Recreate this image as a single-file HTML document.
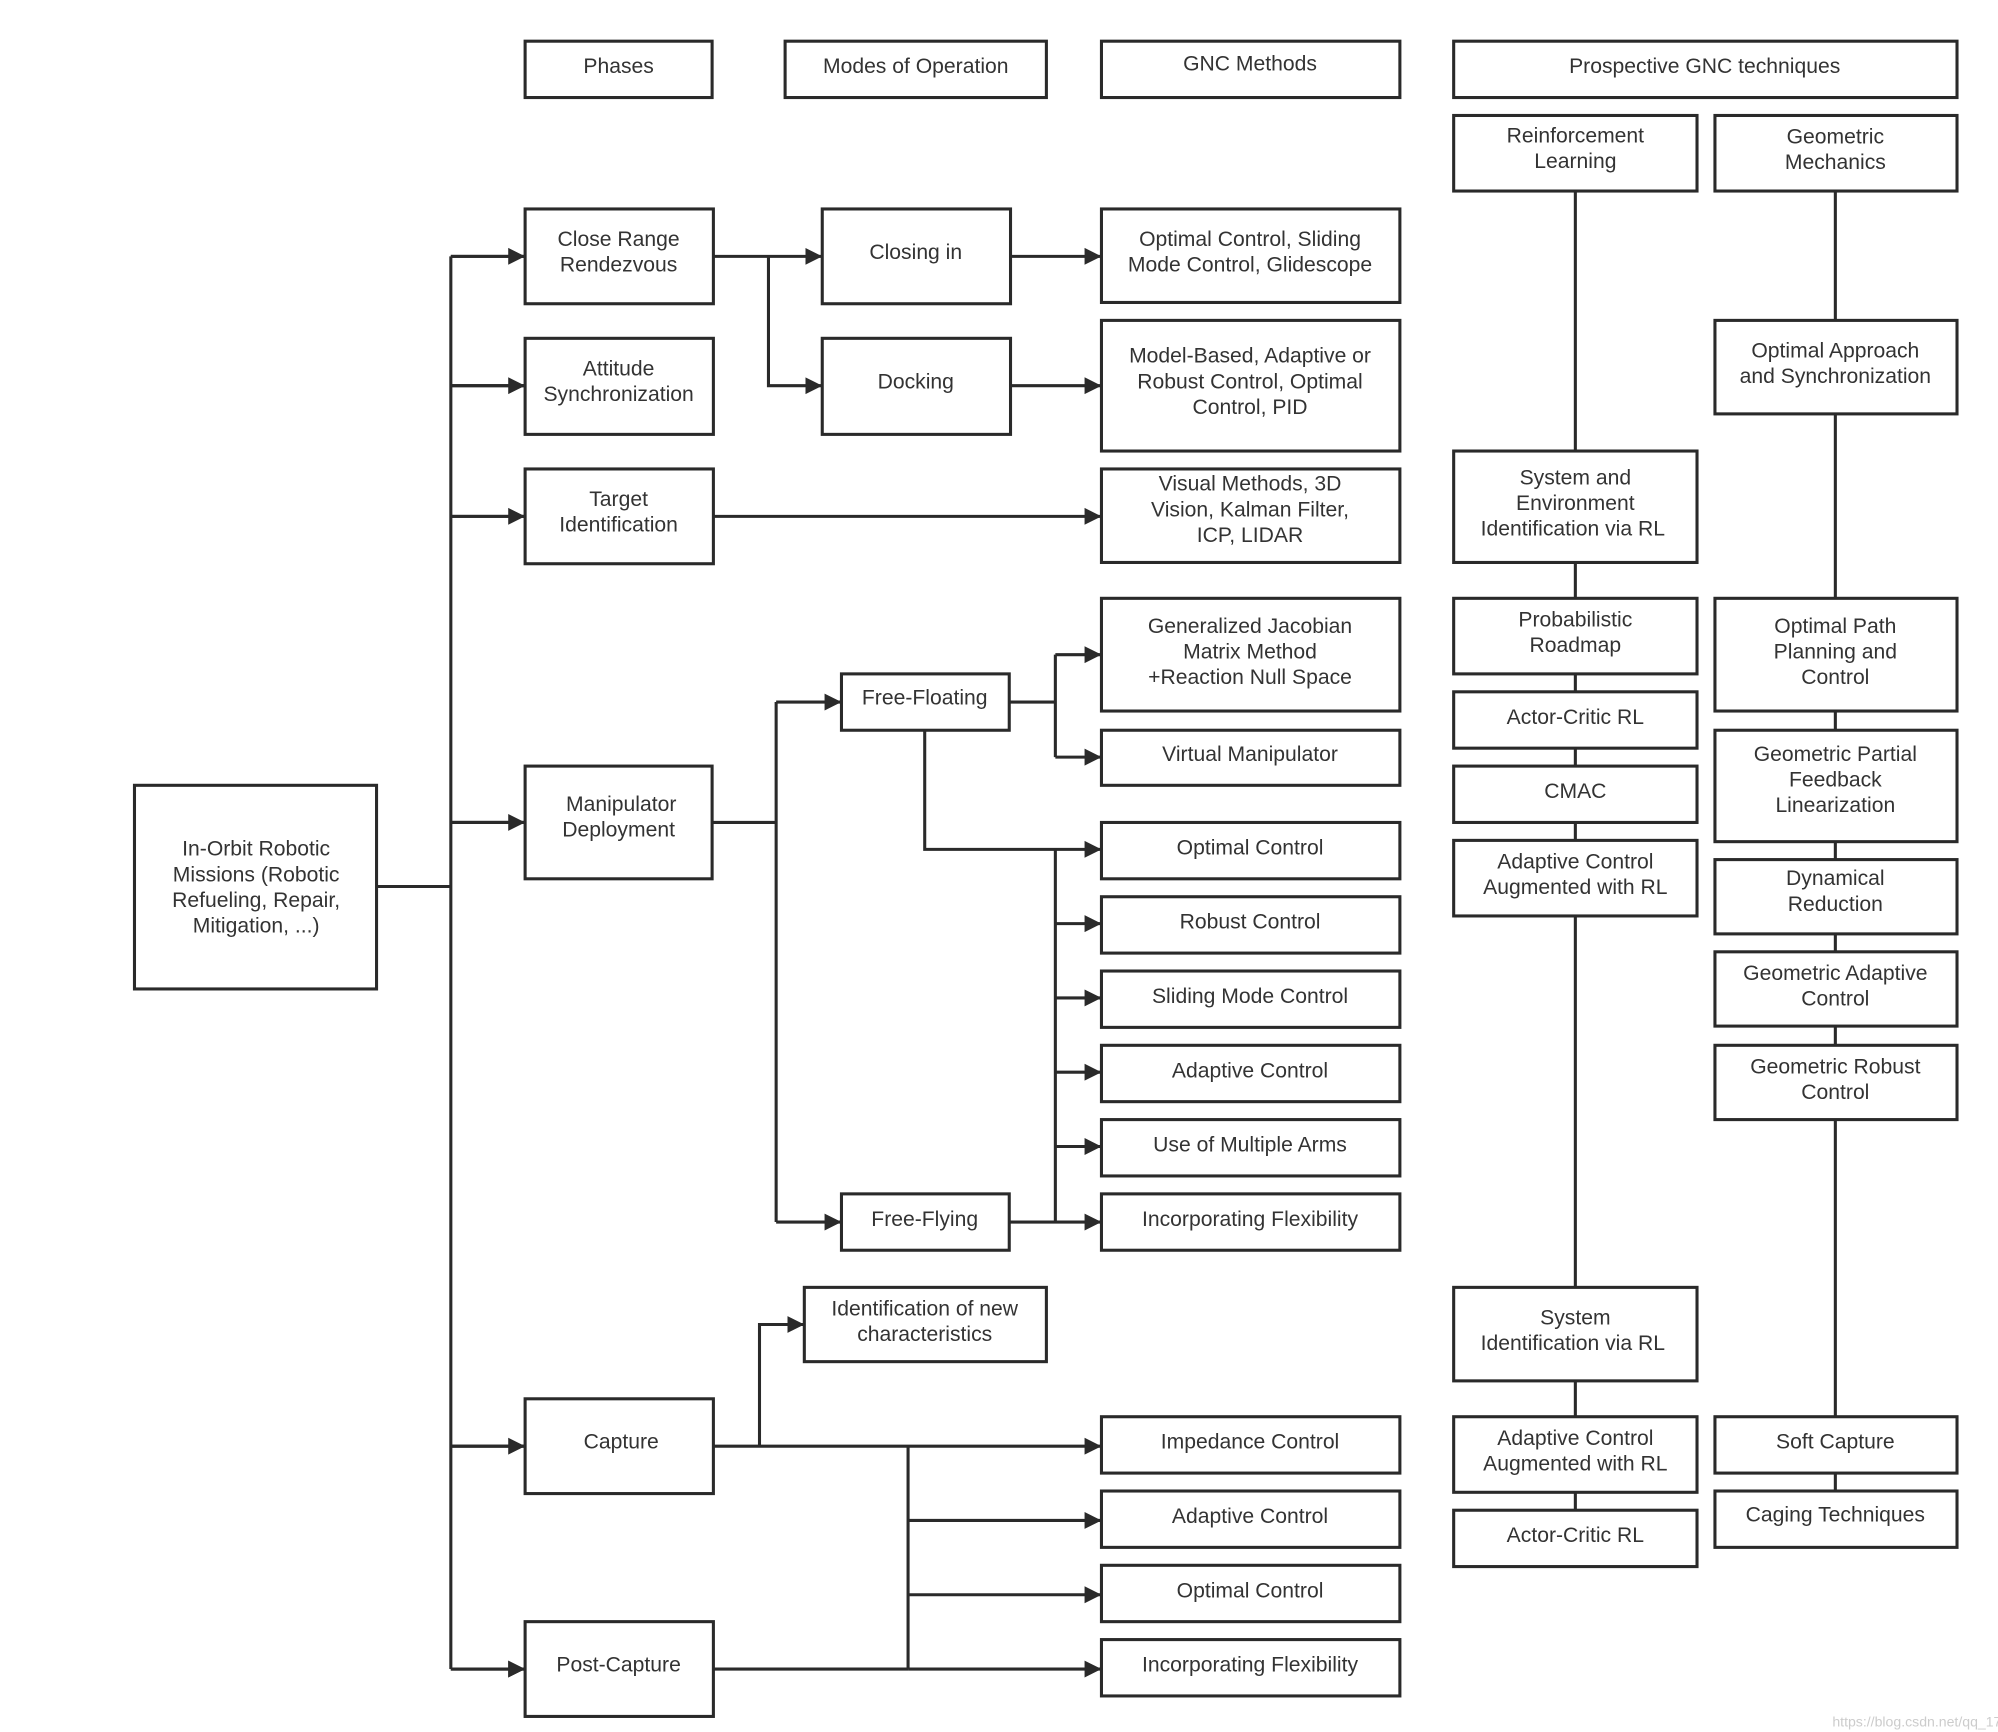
<!DOCTYPE html>
<html><head><meta charset="utf-8"><style>
html,body{margin:0;padding:0;background:#fff}
svg{display:block}
text{font-family:"Liberation Sans",sans-serif;font-size:16.5px;fill:#333;text-anchor:middle}
</style></head><body>
<svg width="1998" height="1732" viewBox="0 0 1560 1352" xmlns="http://www.w3.org/2000/svg">
<defs><marker id="a" viewBox="0 0 10 10" refX="10" refY="5" markerWidth="5.5" markerHeight="6.5" orient="auto" markerUnits="strokeWidth"><path d="M0,0L10,5L0,10z" fill="#2a2a2a"/></marker></defs>
<g fill="none" stroke="#2a2a2a" stroke-width="2.4">
<rect x="410" y="32" width="146" height="44"/><rect x="613" y="32" width="204" height="44"/><rect x="860" y="32" width="233" height="44"/><rect x="1135" y="32" width="393" height="44"/>
<rect x="1135" y="90" width="190" height="59"/><rect x="1339" y="90" width="189" height="59"/>
<rect x="410" y="163" width="147" height="74"/><rect x="642" y="163" width="147" height="74"/><rect x="860" y="163" width="233" height="73"/>
<rect x="410" y="264" width="147" height="75"/><rect x="642" y="264" width="147" height="75"/><rect x="860" y="250" width="233" height="102"/>
<rect x="410" y="366" width="147" height="74"/><rect x="860" y="366" width="233" height="73"/>
<rect x="1339" y="250" width="189" height="73"/><rect x="1135" y="352" width="190" height="87"/>
<rect x="1135" y="467" width="190" height="59"/><rect x="1339" y="467" width="189" height="88"/>
<rect x="860" y="467" width="233" height="88"/><rect x="657" y="526" width="131" height="44"/>
<rect x="1135" y="540" width="190" height="44"/><rect x="1339" y="570" width="189" height="87"/>
<rect x="860" y="570" width="233" height="43"/><rect x="1135" y="598" width="190" height="44"/>
<rect x="410" y="598" width="146" height="88"/><rect x="105" y="613" width="189" height="159"/>
<rect x="860" y="642" width="233" height="44"/><rect x="1135" y="656" width="190" height="59"/><rect x="1339" y="671" width="189" height="58"/>
<rect x="860" y="700" width="233" height="44"/><rect x="860" y="758" width="233" height="44"/><rect x="1339" y="743" width="189" height="58"/>
<rect x="860" y="816" width="233" height="44"/><rect x="1339" y="816" width="189" height="58"/>
<rect x="860" y="874" width="233" height="44"/><rect x="860" y="932" width="233" height="44"/><rect x="657" y="932" width="131" height="44"/>
<rect x="628" y="1005" width="189" height="58"/><rect x="1135" y="1005" width="190" height="73"/>
<rect x="410" y="1092" width="147" height="74"/><rect x="860" y="1106" width="233" height="44"/><rect x="1135" y="1106" width="190" height="59"/><rect x="1339" y="1106" width="189" height="44"/>
<rect x="860" y="1164" width="233" height="44"/><rect x="1339" y="1164" width="189" height="44"/><rect x="1135" y="1179" width="190" height="44"/>
<rect x="860" y="1222" width="233" height="44"/><rect x="410" y="1266" width="147" height="74"/><rect x="860" y="1280" width="233" height="44"/>
<path d="M294,692H352M352,200V1303"/>
<path d="M352,200H410M352,301H410M352,403H410M352,642H410M352,1129H410M352,1303H410" marker-end="url(#a)"/>
<path d="M352,200H410" marker-end="url(#a)"/><path d="M352,301H410" marker-end="url(#a)"/><path d="M352,403H410" marker-end="url(#a)"/><path d="M352,642H410" marker-end="url(#a)"/><path d="M352,1129H410" marker-end="url(#a)"/><path d="M352,1303H410" marker-end="url(#a)"/>
<path d="M557,200H642" marker-end="url(#a)"/><path d="M600,200V301H642" marker-end="url(#a)"/>
<path d="M789,200H860" marker-end="url(#a)"/><path d="M789,301H860" marker-end="url(#a)"/><path d="M557,403H860" marker-end="url(#a)"/>
<path d="M556,642H606M606,548V954"/><path d="M606,548H657" marker-end="url(#a)"/><path d="M606,954H657" marker-end="url(#a)"/>
<path d="M788,548H824M824,511V591"/><path d="M824,511H860" marker-end="url(#a)"/><path d="M824,591H860" marker-end="url(#a)"/>
<path d="M722,570V663H860" marker-end="url(#a)"/><path d="M824,663V954"/>
<path d="M788,954H860" marker-end="url(#a)"/><path d="M824,721H860" marker-end="url(#a)"/><path d="M824,779H860" marker-end="url(#a)"/><path d="M824,837H860" marker-end="url(#a)"/><path d="M824,895H860" marker-end="url(#a)"/>
<path d="M557,1129H860" marker-end="url(#a)"/><path d="M593,1129V1034H628" marker-end="url(#a)"/>
<path d="M709,1129V1303M557,1303H709"/><path d="M709,1187H860" marker-end="url(#a)"/><path d="M709,1245H860" marker-end="url(#a)"/><path d="M709,1303H860" marker-end="url(#a)"/>
<path d="M1230,149V352M1230,439V467M1230,526V540M1230,584V598M1230,642V656M1230,715V1005M1230,1078V1106M1230,1165V1179"/>
<path d="M1433,149V250M1433,323V467M1433,555V570M1433,657V671M1433,729V743M1433,801V816M1433,874V1106M1433,1150V1164"/>
</g>
<text x="483" y="57">Phases</text><text x="715" y="57">Modes of Operation</text><text x="976" y="55">GNC Methods</text><text x="1331" y="57">Prospective GNC techniques</text>
<text x="1230" y="111">Reinforcement</text><text x="1230" y="131">Learning</text>
<text x="1433" y="112">Geometric</text><text x="1433" y="132">Mechanics</text>
<text x="483" y="192">Close Range</text><text x="483" y="212">Rendezvous</text>
<text x="715" y="202">Closing in</text>
<text x="976" y="192">Optimal Control, Sliding</text><text x="976" y="212">Mode Control, Glidescope</text>
<text x="483" y="293">Attitude</text><text x="483" y="313">Synchronization</text>
<text x="715" y="303">Docking</text>
<text x="976" y="283">Model-Based, Adaptive or</text><text x="976" y="303">Robust Control, Optimal</text><text x="976" y="323">Control, PID</text>
<text x="1433" y="279">Optimal Approach</text><text x="1433" y="299">and Synchronization</text>
<text x="483" y="395">Target</text><text x="483" y="415">Identification</text>
<text x="976" y="383">Visual Methods, 3D</text><text x="976" y="403">Vision, Kalman Filter,</text><text x="976" y="423">ICP,  LIDAR</text>
<text x="1230" y="378">System   and</text><text x="1230" y="398">Environment</text><text x="1228" y="418">Identification via RL</text>
<text x="1230" y="489">Probabilistic</text><text x="1230" y="509">Roadmap</text>
<text x="1433" y="494">Optimal Path</text><text x="1433" y="514">Planning and</text><text x="1433" y="534">Control</text>
<text x="976" y="494">Generalized Jacobian</text><text x="976" y="514">Matrix Method</text><text x="976" y="534">+Reaction Null Space</text>
<text x="722" y="550">Free-Floating</text>
<text x="1230" y="565">Actor-Critic RL</text>
<text x="1433" y="594">Geometric Partial</text><text x="1433" y="614">Feedback</text><text x="1433" y="634">Linearization</text>
<text x="976" y="594">Virtual Manipulator</text><text x="1230" y="623">CMAC</text>
<text x="485" y="633">Manipulator</text><text x="483" y="653">Deployment</text>
<text x="200" y="668">In-Orbit Robotic</text><text x="200" y="688">Missions (Robotic</text><text x="200" y="708">Refueling, Repair,</text><text x="200" y="728">Mitigation, ...)</text>
<text x="976" y="667">Optimal Control</text>
<text x="1230" y="678">Adaptive Control</text><text x="1230" y="698">Augmented with RL</text>
<text x="1433" y="691">Dynamical</text><text x="1433" y="711">Reduction</text>
<text x="976" y="725">Robust Control</text><text x="976" y="783">Sliding Mode Control</text>
<text x="1433" y="765">Geometric Adaptive</text><text x="1433" y="785">Control</text>
<text x="976" y="841">Adaptive Control</text>
<text x="1433" y="838">Geometric Robust</text><text x="1433" y="858">Control</text>
<text x="976" y="899">Use of Multiple Arms</text><text x="976" y="957">Incorporating Flexibility</text><text x="722" y="957">Free-Flying</text>
<text x="722" y="1027">Identification of new</text><text x="722" y="1047">characteristics</text>
<text x="1230" y="1034">System</text><text x="1228" y="1054">Identification via RL</text>
<text x="485" y="1131">Capture</text><text x="976" y="1131">Impedance Control</text>
<text x="1230" y="1128">Adaptive Control</text><text x="1230" y="1148">Augmented with RL</text>
<text x="1433" y="1131">Soft Capture</text>
<text x="976" y="1189">Adaptive Control</text><text x="1433" y="1188">Caging Techniques</text><text x="1230" y="1204">Actor-Critic RL</text>
<text x="976" y="1247">Optimal Control</text><text x="483" y="1305">Post-Capture</text><text x="976" y="1305">Incorporating Flexibility</text>
<text x="1515" y="1348" style="font-size:11px;fill:#ccc">https://blog.csdn.net/qq_17032807</text>
</svg>
</body></html>
